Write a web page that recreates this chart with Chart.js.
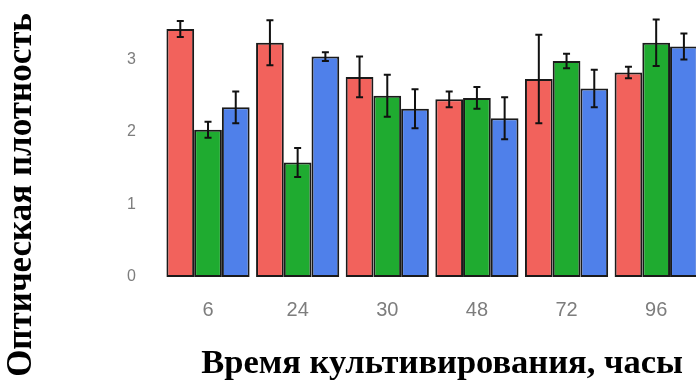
<!DOCTYPE html>
<html>
<head>
<meta charset="utf-8">
<script src="https://cdn.jsdelivr.net/npm/chart.js@4.4.1/dist/chart.umd.min.js"></script>
<style>
  html, body { margin: 0; padding: 0; background: #fff; overflow: hidden; }
  #wrap { width: 696px; height: 382px; overflow: hidden; }
  canvas { display: block; }
</style>
</head>
<body>
<div id="wrap"><canvas id="chart" width="720" height="382"></canvas></div>
<script>
// Hours of cultivation
const categories = ['6', '24', '30', '48', '72', '96'];

// Optical density, mean and spread per group
const redValues   = [3.42, 3.23, 2.76, 2.45, 2.73, 2.82];
const redErrors   = [0.11, 0.31, 0.28, 0.11, 0.61, 0.08];
const greenValues = [2.03, 1.58, 2.50, 2.47, 2.98, 3.23];
const greenErrors = [0.11, 0.20, 0.29, 0.15, 0.10, 0.32];
const blueValues  = [2.34, 3.04, 2.32, 2.19, 2.60, 3.18];
const blueErrors  = [0.22, 0.06, 0.27, 0.29, 0.26, 0.18];

const yTickValues = [0, 1, 2, 3];

const xTitle = 'Время культивирования, часы';
const yTitle = 'Оптическая плотность';

const series = [
  { label: 'Вариант 1', data: redValues,   errors: redErrors,   color: '#F2625C' },
  { label: 'Вариант 2', data: greenValues, errors: greenErrors, color: '#1FAB30' },
  { label: 'Вариант 3', data: blueValues,  errors: blueErrors,  color: '#4F80EA' }
];

// Vertical error whiskers with short caps, drawn through the chart scales
const errorBars = {
  id: 'errorBars',
  afterDatasetsDraw(chart) {
    const { ctx } = chart;
    const yScale = chart.scales.y;
    ctx.save();
    ctx.strokeStyle = '#111';
    ctx.lineWidth = 2;
    chart.data.datasets.forEach((ds, i) => {
      const meta = chart.getDatasetMeta(i);
      meta.data.forEach((bar, j) => {
        const v = ds.data[j];
        const e = ds.errors[j];
        const yTop = yScale.getPixelForValue(v + e);
        const yBot = yScale.getPixelForValue(v - e);
        const x = bar.x;
        const cap = 3.5;
        ctx.beginPath();
        ctx.moveTo(x, yTop); ctx.lineTo(x, yBot);
        ctx.moveTo(x - cap, yTop); ctx.lineTo(x + cap, yTop);
        ctx.moveTo(x - cap, yBot); ctx.lineTo(x + cap, yBot);
        ctx.stroke();
      });
    });
    ctx.restore();
  }
};

// Bold serif axis titles placed around the panel
const axisTitles = {
  id: 'axisTitles',
  afterDraw(chart) {
    const { ctx, chartArea } = chart;
    ctx.save();
    ctx.fillStyle = '#000';
    ctx.font = 'bold 34.5px "Liberation Serif", "Times New Roman", serif';
    ctx.textAlign = 'center';
    ctx.textBaseline = 'alphabetic';
    ctx.fillText(xTitle, (chartArea.left + chartArea.right) / 2 + 10, chart.height - 9);

    ctx.font = 'bold 35px "Liberation Serif", "Times New Roman", serif';
    ctx.translate(31, chart.height / 2 + 4);
    ctx.rotate(-Math.PI / 2);
    ctx.fillText(yTitle, 0, 0);
    ctx.restore();
  }
};

new Chart(document.getElementById('chart'), {
  type: 'bar',
  data: {
    labels: categories,
    datasets: series.map(s => ({
      label: s.label,
      data: s.data,
      errors: s.errors,
      backgroundColor: s.color,
      borderColor: '#1a1a1a',
      borderWidth: 2,
      borderSkipped: false,
      categoryPercentage: 0.928,
      barPercentage: 1.0
    }))
  },
  options: {
    responsive: false,
    animation: false,
    layout: { padding: { left: 127, right: 19, top: 8, bottom: 0 } },
    plugins: {
      legend: { display: false },
      tooltip: { enabled: false }
    },
    scales: {
      x: {
        grid: { display: false, drawTicks: false },
        border: { display: false },
        ticks: {
          color: '#7d7d7d',
          font: { family: '"Liberation Sans", Arial, sans-serif', size: 20 },
          padding: 21
        },
        afterFit(scale) { scale.height = 105; }
      },
      y: {
        min: 0,
        max: 3.71,
        grid: { display: false, drawTicks: false },
        border: { display: false },
        ticks: {
          color: '#7d7d7d',
          font: { family: '"Liberation Sans", Arial, sans-serif', size: 16, lineHeight: 1 },
          padding: 0,
          crossAlign: 'far'
        },
        afterBuildTicks(scale) {
          scale.ticks = yTickValues.map(v => ({ value: v }));
        },
        afterFit(scale) { scale.width = 36.2; }
      }
    }
  },
  plugins: [errorBars, axisTitles]
});
</script>
</body>
</html>
